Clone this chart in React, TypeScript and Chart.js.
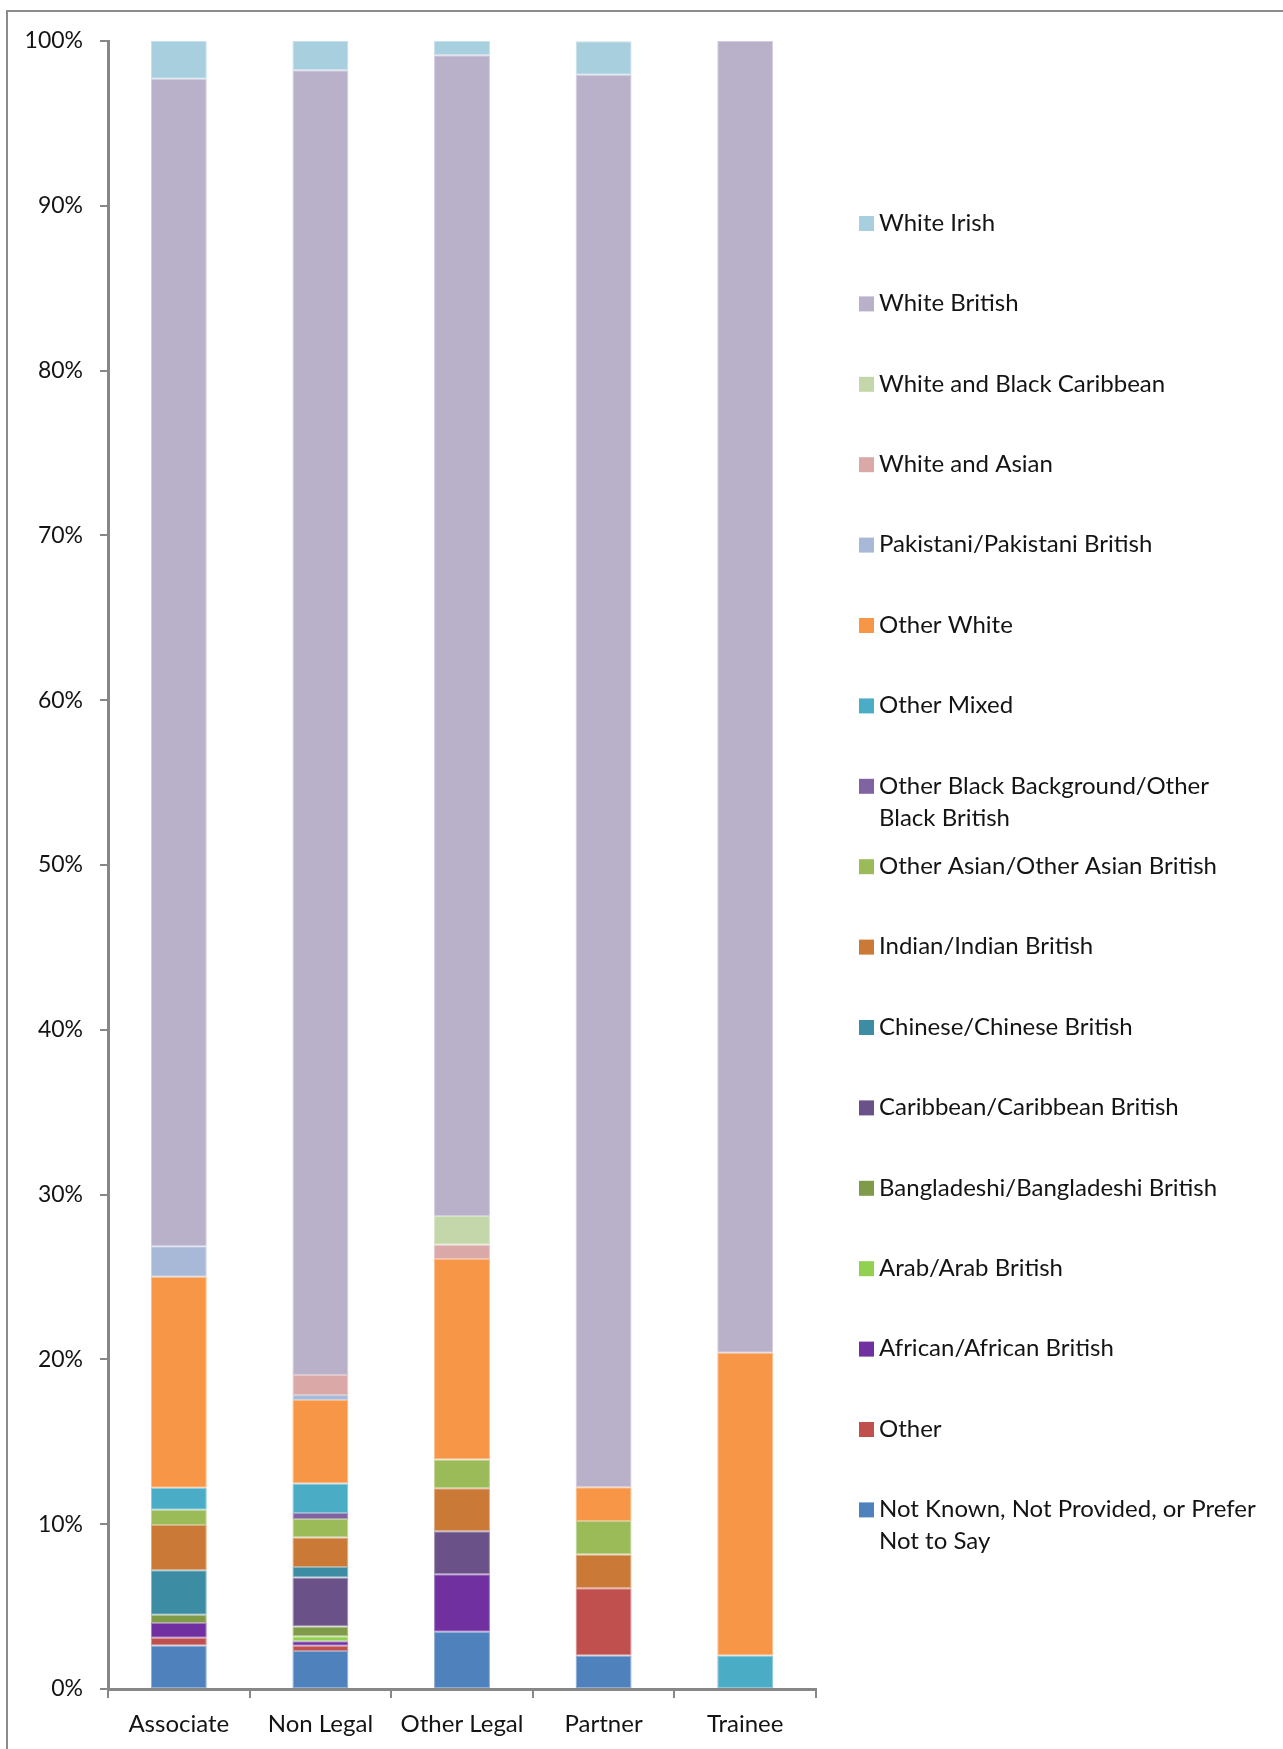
import React, { useEffect, useRef } from "react";
import { Chart, registerables } from "chart.js";

Chart.register(...registerables);

// ---- Data (percent of each category, stacked bottom -> top) ----
const categories = ["Associate", "Non Legal", "Other Legal", "Partner", "Trainee"];

const notKnown = [2.64, 2.30, 3.48, 2.04, 0];
const otherEthnic = [0.47, 0.32, 0, 4.08, 0];
const african = [0.90, 0.28, 3.48, 0, 0];
const arab = [0, 0.30, 0, 0, 0];
const bangladeshi = [0.49, 0.60, 0, 0, 0];
const caribbean = [0, 2.96, 2.61, 0, 0];
const chinese = [2.70, 0.64, 0, 0, 0];
const indian = [2.75, 1.79, 2.61, 2.04, 0];
const otherAsian = [0.92, 1.13, 1.74, 2.04, 0];
const otherBlack = [0, 0.36, 0, 0, 0];
const otherMixed = [1.34, 1.79, 0, 0, 2.04];
const otherWhite = [12.80, 5.07, 12.17, 2.04, 18.37];
const pakistani = [1.85, 0.30, 0, 0, 0];
const whiteAsian = [0, 1.22, 0.87, 0, 0];
const whiteBlackCaribbean = [0, 0, 1.74, 0, 0];
const whiteBritish = [70.85, 79.16, 70.43, 85.71, 79.59];
const whiteIrish = [2.29, 1.78, 0.87, 2.04, 0];

const seriesLabels = [
  "Not Known, Not Provided, or Prefer Not to Say",
  "Other",
  "African/African British",
  "Arab/Arab British",
  "Bangladeshi/Bangladeshi British",
  "Caribbean/Caribbean British",
  "Chinese/Chinese British",
  "Indian/Indian British",
  "Other Asian/Other Asian British",
  "Other Black Background/Other Black British",
  "Other Mixed",
  "Other White",
  "Pakistani/Pakistani British",
  "White and Asian",
  "White and Black Caribbean",
  "White British",
  "White Irish",
];

const seriesValues = [
  notKnown, otherEthnic, african, arab, bangladeshi, caribbean, chinese, indian,
  otherAsian, otherBlack, otherMixed, otherWhite, pakistani, whiteAsian,
  whiteBlackCaribbean, whiteBritish, whiteIrish,
];

const seriesColors = [
  "#4F81BD", "#C0504D", "#7030A0", "#92D050", "#7F9A48", "#6A5187", "#3C8DA3",
  "#CA7936", "#9BBB59", "#8064A2", "#4BACC6", "#F79646", "#A8B9D7", "#DBA8A8",
  "#C4D7AA", "#B9B0CA", "#A8CFDD",
];

const yTicks = [0, 10, 20, 30, 40, 50, 60, 70, 80, 90, 100];

const FONT = "Lato, 'Open Sans', sans-serif";
const AXIS_COLOR = "#878787";
const TEXT_COLOR = "#141414";

function lighten(hex: string, amt: number): string {
  const n = parseInt(hex.slice(1), 16);
  const r = (n >> 16) & 255, g = (n >> 8) & 255, b = n & 255;
  const f = (c: number) => Math.round(c + (255 - c) * amt);
  return `rgb(${f(r)},${f(g)},${f(b)})`;
}

function wrapText(ctx: CanvasRenderingContext2D, text: string, maxW: number): string[] {
  const words = text.split(" ");
  const lines: string[] = [];
  let cur = "";
  for (const w of words) {
    const test = cur ? cur + " " + w : w;
    if (cur && ctx.measureText(test).width > maxW) {
      lines.push(cur);
      cur = w;
    } else {
      cur = test;
    }
  }
  if (cur) lines.push(cur);
  return lines;
}

const framePlugin = {
  id: "frame",
  beforeDraw(chart: any) {
    const ctx = chart.ctx as CanvasRenderingContext2D;
    ctx.save();
    ctx.fillStyle = "#ffffff";
    ctx.fillRect(0, 0, chart.width, chart.height);
    ctx.strokeStyle = "#8c8c8c";
    ctx.lineWidth = 2;
    ctx.beginPath();
    ctx.moveTo(7, chart.height);
    ctx.lineTo(7, 11);
    ctx.lineTo(chart.width, 11);
    ctx.stroke();
    ctx.restore();
  },
};

const sideLegendPlugin = {
  id: "sideLegend",
  afterDraw(chart: any) {
    const ctx = chart.ctx as CanvasRenderingContext2D;
    const items = chart.data.datasets.slice().reverse();
    ctx.save();
    ctx.font = `24px ${FONT}`;
    ctx.textBaseline = "middle";
    ctx.textAlign = "left";
    items.forEach((d: any, i: number) => {
      const cy = 223 + i * 80.4;
      ctx.fillStyle = d.backgroundColor;
      ctx.fillRect(859, cy - 7, 15, 15);
      ctx.fillStyle = TEXT_COLOR;
      const lines = wrapText(ctx, d.label, 392);
      lines.forEach((ln, j) => ctx.fillText(ln, 879, cy + j * 32));
    });
    ctx.restore();
  },
};

export default function App() {
  const canvasRef = useRef<HTMLCanvasElement | null>(null);

  useEffect(() => {
    if (!canvasRef.current) return;
    const datasets = seriesLabels.map((label, i) => ({
      label,
      data: seriesValues[i],
      backgroundColor: seriesColors[i],
      borderColor: lighten(seriesColors[i], 0.35),
      borderWidth: 1,
      borderSkipped: false,
      barPercentage: 0.395,
      categoryPercentage: 1,
    }));

    const chart = new Chart(canvasRef.current, {
      type: "bar",
      data: { labels: categories, datasets },
      options: {
        animation: false,
        responsive: false,
        maintainAspectRatio: false,
        devicePixelRatio: 1,
        layout: { padding: { top: 41, right: 467, bottom: 0, left: 0 } },
        plugins: {
          legend: { display: false },
          tooltip: { enabled: false },
          title: { display: false },
        },
        scales: {
          x: {
            stacked: true,
            offset: true,
            afterFit: (s: any) => {
              s.height = 60;
            },
            grid: {
              display: true,
              offset: true,
              drawOnChartArea: false,
              drawTicks: true,
              tickLength: 9,
              tickColor: AXIS_COLOR,
              tickWidth: 2,
              color: AXIS_COLOR,
              lineWidth: 2,
            },
            border: { display: true, color: AXIS_COLOR, width: 3 },
            ticks: {
              color: TEXT_COLOR,
              font: { family: FONT, size: 24 },
              padding: 12,
              maxRotation: 0,
              autoSkip: false,
            },
          },
          y: {
            stacked: true,
            min: 0,
            max: 100,
            afterFit: (s: any) => {
              s.width = 108;
            },
            afterBuildTicks: (s: any) => {
              s.ticks = yTicks.map((v) => ({ value: v }));
            },
            grid: {
              display: true,
              drawOnChartArea: false,
              drawTicks: true,
              tickLength: 8,
              tickColor: AXIS_COLOR,
              tickWidth: 2,
              color: AXIS_COLOR,
              lineWidth: 2,
            },
            border: { display: true, color: AXIS_COLOR, width: 3 },
            ticks: {
              color: TEXT_COLOR,
              font: { family: FONT, size: 23 },
              padding: 17,
              callback: (v: any) => `${v}%`,
            },
          },
        },
      },
      plugins: [framePlugin, sideLegendPlugin],
    });

    return () => chart.destroy();
  }, []);

  return (
    <div style={{ position: "absolute", left: 0, top: 0, width: 1283, height: 1749, overflow: "hidden", background: "#fff" }}>
      <canvas ref={canvasRef} width={1283} height={1749} style={{ display: "block", width: 1283, height: 1749 }} />
    </div>
  );
}
